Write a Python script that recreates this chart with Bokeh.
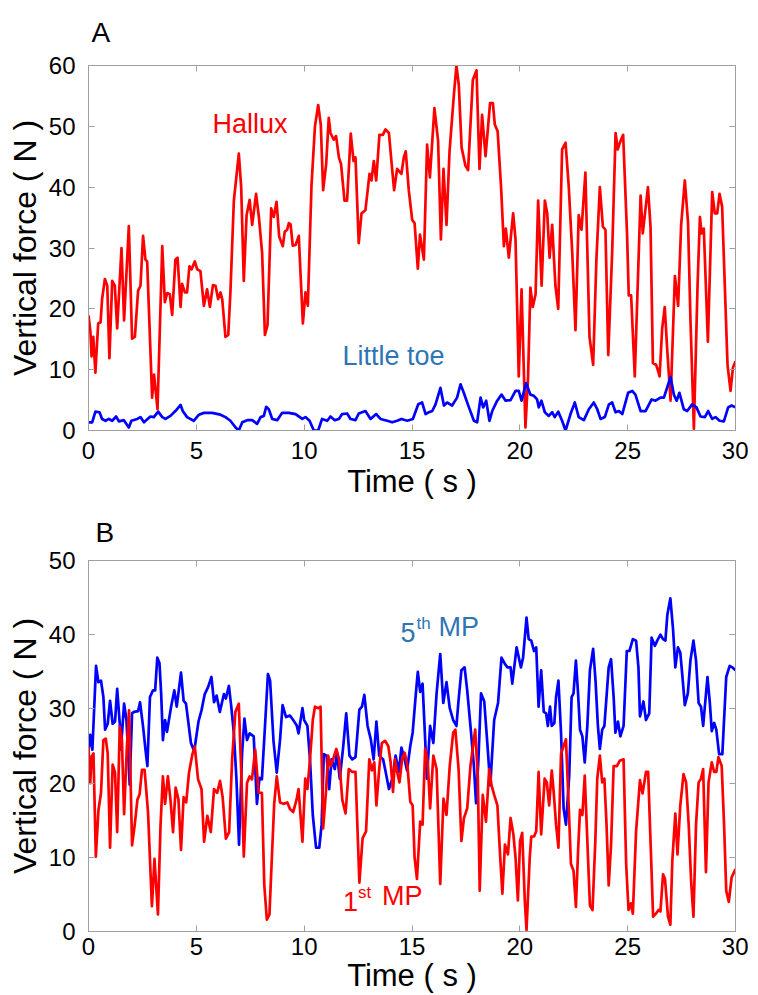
from bokeh.plotting import figure
from bokeh.models import Range1d, LinearAxis, SingleIntervalTicker, Label
from bokeh.layouts import column
from bokeh.embed import file_html
from bokeh.resources import INLINE

# ---------------- Panel A data ----------------
hallux_t = [0.0, 0.09, 0.14, 0.22, 0.32, 0.40, 0.45, 0.56, 0.63, 0.76, 0.87, 0.97, 1.10, 1.22, 1.33, 1.53, 1.65, 1.87, 2.02, 2.15,
            2.30, 2.41, 2.53, 2.64, 2.72, 2.95, 3.04, 3.20, 3.42, 3.54, 3.65, 3.77, 3.88, 4.03, 4.13, 4.27, 4.34, 4.47, 4.57, 4.68,
            4.78, 4.93, 5.04, 5.19, 5.35, 5.50, 5.63, 5.77, 5.89, 6.01, 6.12, 6.20, 6.35, 6.48, 6.58, 6.74, 6.97, 7.08, 7.20, 7.33,
            7.47, 7.59, 7.77, 7.90, 8.05, 8.18, 8.30, 8.47, 8.59, 8.72, 8.84, 9.01, 9.10, 9.21, 9.29, 9.37, 9.47, 9.60, 9.75, 9.94,
            10.06, 10.17, 10.34, 10.50, 10.65, 10.77, 10.88, 11.02, 11.14, 11.22, 11.37, 11.48, 11.61, 11.71, 11.87, 11.99, 12.16, 12.29, 12.38, 12.53,
            12.66, 12.84, 13.03, 13.12, 13.23, 13.34, 13.49, 13.65, 13.77, 13.93, 14.05, 14.17, 14.31, 14.51, 14.62, 14.71, 14.85, 15.01, 15.12, 15.27,
            15.37, 15.55, 15.70, 15.83, 16.04, 16.21, 16.34, 16.46, 16.60, 16.74, 16.94, 17.06, 17.17, 17.30, 17.48, 17.60, 17.82, 17.99, 18.13, 18.25,
            18.41, 18.62, 18.75, 18.84, 18.97, 19.13, 19.26, 19.35, 19.49, 19.69, 19.80, 19.95, 20.08, 20.26, 20.38, 20.49, 20.60, 20.73, 20.85, 21.01,
            21.16, 21.27, 21.38, 21.50, 21.65, 21.78, 21.96, 22.12, 22.27, 22.43, 22.58, 22.73, 22.86, 23.04, 23.23, 23.40, 23.55, 23.71, 23.85, 23.97,
            24.10, 24.28, 24.44, 24.54, 24.67, 24.79, 24.97, 25.05, 25.16, 25.33, 25.60, 25.70, 25.94, 26.06, 26.17, 26.32, 26.42, 26.48, 26.60, 26.72,
            26.83, 26.99, 27.19, 27.34, 27.48, 27.65, 27.80, 27.91, 28.07, 28.24, 28.35, 28.43, 28.53, 28.72, 28.92, 29.04, 29.15, 29.26, 29.38, 29.53,
            29.63, 29.77, 29.88, 30.0]
hallux_f = [18.9, 16.2, 12.2, 15.4, 9.5, 14.6, 17.6, 17.8, 21.6, 24.9, 23.8, 11.9, 24.6, 23.8, 16.8, 30.0, 18.1, 33.6, 15.1, 15.4,
            23.0, 23.8, 32.0, 28.1, 27.8, 5.4, 9.2, 3.5, 30.3, 21.1, 22.6, 22.4, 19.0, 28.1, 28.4, 20.3, 24.1, 22.7, 22.7, 27.0,
            26.5, 27.8, 26.5, 26.2, 20.5, 23.2, 20.3, 23.9, 23.8, 21.6, 22.7, 21.6, 15.4, 15.7, 22.7, 37.8, 45.5, 40.0, 24.6, 35.4,
            37.9, 33.8, 38.9, 35.1, 29.2, 15.7, 17.3, 36.5, 35.1, 37.6, 31.9, 30.3, 32.7, 33.0, 34.1, 33.9, 30.4, 30.5, 32.0, 17.6,
            22.7, 20.5, 40.3, 50.0, 53.5, 50.3, 39.5, 43.8, 51.4, 48.9, 47.8, 48.4, 44.9, 43.8, 37.8, 37.8, 48.8, 44.3, 44.9, 30.8,
            35.7, 36.2, 42.2, 41.1, 44.3, 41.1, 48.6, 48.6, 49.5, 48.9, 44.1, 39.5, 43.0, 42.2, 44.9, 45.9, 39.5, 34.6, 34.1, 26.6,
            32.2, 28.1, 47.0, 41.6, 53.0, 47.6, 31.4, 43.0, 33.8, 45.9, 55.1, 60.0, 56.8, 46.5, 43.5, 42.8, 57.6, 59.2, 43.0, 51.9,
            45.1, 53.8, 53.8, 50.3, 49.2, 40.0, 30.3, 33.2, 28.4, 35.7, 31.4, 8.9, 23.2, 0.5, 8.6, 23.5, 20.3, 22.4, 37.8, 23.8,
            37.8, 35.7, 28.4, 33.8, 23.8, 20.0, 46.2, 47.3, 40.0, 29.2, 16.5, 35.4, 33.0, 42.4, 15.4, 10.8, 28.1, 40.0, 33.5, 33.0,
            12.4, 29.2, 48.9, 46.2, 47.6, 48.6, 32.4, 22.2, 22.2, 8.9, 38.6, 32.4, 40.0, 33.5, 11.1, 10.8, 9.7, 8.9, 16.8, 20.3,
            13.5, 4.9, 25.4, 20.5, 33.8, 41.1, 34.1, 18.4, 0.3, 23.8, 35.1, 32.4, 33.2, 14.6, 39.2, 35.7, 35.7, 38.9, 36.8, 21.1,
            10.8, 6.5, 10.3, 11.4]

toe_t = [0.0, 0.17, 0.32, 0.51, 0.63, 0.79, 0.94, 1.10, 1.28, 1.41, 1.64, 1.87, 1.99, 2.26, 2.41, 2.57, 2.87, 3.03, 3.23, 3.42,
         3.57, 3.80, 4.03, 4.27, 4.37, 4.57, 4.88, 5.12, 5.35, 5.73, 6.12, 6.35, 6.58, 6.82, 6.97, 7.13, 7.36, 7.59, 7.82, 7.98,
         8.13, 8.24, 8.36, 8.52, 8.75, 8.98, 9.29, 9.60, 9.91, 10.06, 10.25, 10.45, 10.65, 10.83, 11.07, 11.22, 11.42, 11.61, 11.76, 11.99,
         12.15, 12.38, 12.53, 12.84, 13.08, 13.34, 13.54, 13.85, 14.08, 14.31, 14.51, 14.78, 15.04, 15.29, 15.47, 15.63, 15.78, 15.94, 16.09, 16.32,
         16.48, 16.63, 16.86, 17.09, 17.25, 17.40, 17.64, 17.87, 18.02, 18.18, 18.30, 18.44, 18.59, 18.72, 18.95, 19.15, 19.34, 19.57, 19.80, 19.95,
         20.08, 20.29, 20.49, 20.65, 20.80, 20.88, 21.00, 21.16, 21.34, 21.50, 21.62, 21.78, 21.96, 22.12, 22.35, 22.55, 22.73, 22.97, 23.20, 23.43,
         23.59, 23.74, 23.94, 24.13, 24.28, 24.44, 24.59, 24.75, 25.02, 25.21, 25.36, 25.60, 25.83, 26.11, 26.29, 26.52, 26.68, 26.88, 26.99, 27.14,
         27.27, 27.40, 27.60, 27.76, 27.99, 28.19, 28.38, 28.58, 28.73, 28.92, 29.07, 29.26, 29.46, 29.66, 29.82, 30.0]
toe_f = [1.35, 1.35, 3.1, 3.0, 1.9, 1.6, 1.9, 1.6, 2.3, 1.5, 1.7, 0.5, 1.6, 1.9, 2.2, 1.35, 2.3, 2.2, 3.1, 2.2,
         1.9, 2.4, 3.2, 4.2, 3.2, 2.2, 1.6, 2.6, 2.9, 2.9, 2.6, 2.2, 1.6, 0.5, 0.0, 1.35, 1.7, 1.7, 1.1, 2.2,
         2.4, 3.9, 3.5, 1.9, 1.7, 2.9, 2.9, 2.7, 1.9, 2.2, 1.6, 0.0, 0.0, 1.9, 1.6, 2.3, 1.7, 1.9, 2.7, 2.8,
         1.9, 1.7, 2.8, 3.2, 1.9, 2.7, 1.9, 1.6, 1.35, 1.6, 1.9, 1.6, 1.9, 4.3, 4.6, 2.7, 3.0, 3.2, 4.3, 7.0,
         4.1, 4.6, 4.1, 5.4, 7.6, 6.2, 3.8, 1.6, 1.35, 5.4, 3.8, 4.9, 1.6, 3.2, 4.9, 5.9, 4.9, 5.0, 6.5, 6.5,
         4.9, 7.8, 5.9, 5.7, 5.1, 3.8, 4.9, 3.0, 2.4, 3.0, 2.2, 3.1, 1.6, 0.0, 2.7, 4.6, 2.2, 1.7, 3.5, 4.6,
         3.5, 1.9, 2.2, 4.3, 4.6, 3.0, 3.2, 2.7, 6.2, 6.5, 5.9, 3.2, 3.2, 5.1, 4.9, 5.4, 5.4, 7.6, 8.8, 5.9,
         4.9, 6.2, 3.5, 3.2, 4.3, 3.8, 2.3, 2.2, 3.2, 1.9, 2.2, 1.6, 1.5, 3.8, 4.1, 3.8]

# ---------------- Panel B data ----------------
mp5_t = [0.0, 0.08, 0.18, 0.35, 0.46, 0.58, 0.69, 0.77, 0.89, 1.00, 1.12, 1.23, 1.33, 1.45, 1.50, 1.65, 1.76, 1.91, 2.02, 2.11,
         2.30, 2.39, 2.53, 2.65, 2.73, 2.85, 2.99, 3.09, 3.19, 3.29, 3.37, 3.45, 3.55, 3.64, 3.83, 3.98, 4.09, 4.29, 4.41, 4.52,
         4.75, 4.90, 5.10, 5.24, 5.39, 5.54, 5.70, 5.82, 5.94, 6.09, 6.28, 6.37, 6.51, 6.62, 6.74, 6.86, 6.98, 7.12, 7.23, 7.35,
         7.47, 7.66, 7.81, 7.93, 8.04, 8.19, 8.32, 8.42, 8.58, 8.73, 8.88, 9.00, 9.16, 9.34, 9.49, 9.65, 9.74, 9.92, 10.00, 10.15,
         10.27, 10.40, 10.55, 10.70, 10.81, 10.91, 11.04, 11.16, 11.27, 11.42, 11.52, 11.65, 11.80, 11.95, 12.10, 12.23, 12.38, 12.56, 12.68, 12.79,
         12.94, 13.09, 13.22, 13.35, 13.48, 13.66, 13.78, 13.93, 14.09, 14.24, 14.39, 14.51, 14.66, 14.77, 14.92, 15.03, 15.18, 15.27, 15.38, 15.49,
         15.61, 15.69, 15.84, 15.99, 16.14, 16.31, 16.45, 16.60, 16.75, 16.91, 17.06, 17.16, 17.29, 17.44, 17.56, 17.71, 17.87, 17.97, 18.08, 18.20,
         18.35, 18.48, 18.63, 18.81, 18.99, 19.15, 19.30, 19.42, 19.57, 19.65, 19.85, 20.05, 20.15, 20.31, 20.41, 20.53, 20.66, 20.76, 20.87, 20.99,
         21.11, 21.22, 21.30, 21.40, 21.48, 21.60, 21.68, 21.79, 21.91, 22.03, 22.14, 22.29, 22.40, 22.49, 22.60, 22.70, 22.79, 22.90, 23.01, 23.13,
         23.25, 23.40, 23.51, 23.62, 23.71, 23.82, 23.92, 24.12, 24.23, 24.35, 24.43, 24.55, 24.66, 24.81, 24.96, 25.08, 25.24, 25.39, 25.50, 25.57,
         25.73, 25.85, 26.00, 26.11, 26.26, 26.37, 26.52, 26.64, 26.75, 26.84, 26.98, 27.10, 27.21, 27.33, 27.44, 27.53, 27.65, 27.79, 27.91, 28.05,
         28.17, 28.29, 28.40, 28.50, 28.70, 28.81, 28.90, 29.01, 29.11, 29.24, 29.39, 29.57, 29.73, 29.85, 30.0]
mp5_f = [24.3, 26.5, 24.5, 35.8, 33.6, 33.8, 31.6, 27.2, 28.0, 31.1, 28.0, 28.3, 32.7, 28.0, 24.5, 30.7, 28.5, 19.8, 29.4, 29.6,
         29.7, 30.9, 27.6, 24.3, 22.3, 31.6, 32.5, 32.5, 36.9, 36.2, 32.0, 25.8, 28.5, 26.9, 30.3, 32.5, 30.3, 34.9, 31.1, 30.7,
         25.4, 24.3, 28.3, 29.8, 32.0, 32.9, 34.3, 30.9, 31.8, 29.6, 32.0, 31.4, 33.1, 30.3, 26.7, 20.5, 11.7, 24.0, 28.7, 25.8,
         26.7, 26.3, 17.2, 20.7, 20.5, 28.0, 34.7, 33.8, 25.6, 21.4, 25.8, 30.5, 28.9, 29.1, 28.5, 27.8, 26.7, 30.1, 28.5, 27.7,
         23.2, 15.7, 11.3, 11.3, 14.4, 23.9, 23.7, 19.2, 23.2, 21.9, 24.1, 20.6, 24.6, 29.4, 23.7, 23.2, 23.5, 29.9, 30.3, 31.9,
         27.7, 25.9, 23.2, 28.3, 23.7, 23.2, 21.5, 19.2, 20.6, 23.7, 21.5, 24.8, 23.2, 21.7, 25.0, 26.8, 32.1, 35.0, 32.3, 33.4,
         25.9, 20.6, 27.7, 25.4, 32.1, 37.4, 30.8, 33.6, 30.1, 28.5, 27.7, 31.2, 35.2, 35.6, 32.5, 27.7, 22.3, 17.3, 23.2, 32.1,
         31.0, 25.9, 19.7, 28.5, 30.8, 36.9, 36.1, 35.6, 35.6, 33.4, 38.3, 35.6, 36.9, 42.3, 39.4, 39.2, 37.8, 38.3, 30.3, 35.2,
         29.6, 29.4, 27.7, 30.3, 27.7, 28.1, 31.6, 33.8, 26.8, 16.6, 14.4, 21.0, 31.6, 32.1, 36.5, 32.1, 27.2, 26.3, 22.8, 27.7,
         35.2, 38.1, 33.8, 27.7, 24.6, 27.2, 27.7, 35.6, 36.7, 31.6, 26.8, 28.3, 26.3, 27.7, 37.8, 37.8, 39.4, 39.2, 35.6, 29.0,
         31.0, 28.5, 29.4, 39.6, 38.5, 39.2, 40.0, 39.4, 39.2, 42.7, 44.9, 40.9, 35.6, 38.3, 37.6, 34.7, 30.5, 32.1, 36.5, 39.2,
         36.5, 30.8, 30.3, 27.7, 34.3, 30.8, 27.0, 28.1, 27.2, 23.9, 23.9, 34.3, 35.8, 35.6, 35.2]

mp1_t = [0.0, 0.08, 0.15, 0.23, 0.34, 0.46, 0.58, 0.69, 0.80, 0.89, 1.00, 1.12, 1.23, 1.33, 1.45, 1.55, 1.65, 1.78, 1.88, 2.02,
         2.14, 2.27, 2.37, 2.48, 2.60, 2.76, 2.94, 3.06, 3.22, 3.34, 3.45, 3.55, 3.68, 3.80, 3.92, 4.04, 4.17, 4.29, 4.41, 4.53,
         4.66, 4.81, 4.93, 5.08, 5.24, 5.36, 5.51, 5.67, 5.82, 5.97, 6.10, 6.22, 6.37, 6.52, 6.66, 6.81, 6.97, 7.09, 7.20, 7.35,
         7.47, 7.58, 7.73, 7.89, 8.04, 8.15, 8.27, 8.39, 8.50, 8.61, 8.73, 8.88, 9.04, 9.22, 9.34, 9.49, 9.65, 9.74, 9.92, 10.05,
         10.15, 10.27, 10.40, 10.50, 10.66, 10.76, 10.88, 11.01, 11.11, 11.22, 11.34, 11.49, 11.62, 11.77, 11.92, 12.07, 12.23, 12.38, 12.56, 12.71,
         12.87, 13.02, 13.14, 13.25, 13.35, 13.48, 13.60, 13.75, 13.90, 14.01, 14.12, 14.21, 14.31, 14.42, 14.54, 14.66, 14.79, 14.92, 15.03, 15.12,
         15.23, 15.38, 15.49, 15.61, 15.73, 15.84, 15.99, 16.14, 16.31, 16.46, 16.60, 16.75, 16.91, 17.01, 17.16, 17.29, 17.41, 17.56, 17.71, 17.93,
         18.05, 18.14, 18.28, 18.43, 18.58, 18.69, 18.81, 18.96, 19.09, 19.19, 19.31, 19.45, 19.57, 19.70, 19.80, 19.91, 20.01, 20.11, 20.23, 20.31,
         20.46, 20.53, 20.66, 20.76, 20.87, 20.99, 21.15, 21.25, 21.36, 21.48, 21.57, 21.68, 21.79, 21.91, 22.03, 22.14, 22.24, 22.37, 22.49, 22.60,
         22.70, 22.79, 22.90, 23.01, 23.16, 23.25, 23.37, 23.50, 23.59, 23.71, 23.82, 23.92, 24.02, 24.12, 24.23, 24.35, 24.50, 24.63, 24.81, 24.93,
         25.04, 25.15, 25.24, 25.39, 25.57, 25.69, 25.85, 25.95, 26.06, 26.18, 26.31, 26.43, 26.52, 26.64, 26.73, 26.87, 26.98, 27.07, 27.21, 27.31,
         27.44, 27.59, 27.71, 27.83, 27.94, 28.05, 28.17, 28.29, 28.40, 28.50, 28.63, 28.75, 28.90, 29.01, 29.11, 29.21, 29.36, 29.47, 29.57, 29.69,
         29.82, 30.0]
mp1_f = [24.9, 20.0, 23.6, 24.0, 10.1, 16.3, 18.7, 25.8, 26.0, 24.0, 11.3, 22.5, 21.4, 13.4, 27.6, 25.8, 15.8, 24.9, 29.8, 11.6,
         14.3, 17.8, 18.5, 21.8, 21.8, 16.1, 3.4, 9.8, 2.3, 14.3, 20.9, 17.2, 20.9, 17.8, 13.4, 19.4, 17.8, 11.0, 18.1, 17.4,
         21.4, 23.8, 24.9, 20.5, 19.2, 12.1, 15.6, 13.4, 19.2, 18.7, 20.3, 18.1, 12.5, 13.4, 23.2, 29.6, 30.7, 20.9, 10.1, 20.0,
         20.9, 20.5, 24.5, 18.7, 18.7, 6.3, 1.6, 2.3, 9.8, 17.2, 20.9, 17.4, 17.2, 17.4, 16.5, 16.1, 17.8, 19.2, 12.1, 20.6,
         19.2, 23.2, 28.5, 30.3, 30.1, 30.3, 13.9, 18.8, 23.7, 22.3, 23.2, 24.6, 23.2, 17.7, 15.9, 21.9, 21.5, 21.5, 6.6, 12.6,
         13.5, 23.2, 21.7, 22.8, 17.0, 21.9, 25.4, 25.7, 25.0, 22.8, 18.8, 23.2, 21.5, 20.1, 23.2, 24.1, 22.3, 17.5, 17.0, 10.0,
         7.1, 14.8, 14.4, 24.6, 22.8, 16.6, 23.7, 21.9, 6.4, 17.9, 15.7, 22.3, 26.8, 27.2, 21.9, 12.2, 15.3, 16.6, 22.3, 27.2,
         21.0, 5.5, 18.4, 14.8, 21.9, 19.7, 18.4, 17.0, 10.0, 5.1, 11.7, 10.4, 15.3, 13.1, 10.0, 4.2, 12.2, 13.3, 4.2, 0.2,
         10.0, 12.8, 12.8, 13.5, 21.5, 13.1, 20.6, 20.1, 17.0, 21.7, 18.8, 14.4, 11.3, 23.9, 25.0, 25.9, 18.8, 9.1, 8.2, 3.3,
         10.8, 16.4, 15.7, 21.0, 10.0, 3.5, 2.9, 12.2, 20.6, 23.7, 20.1, 20.6, 14.4, 6.2, 11.7, 22.3, 22.3, 23.0, 23.2, 9.1,
         2.9, 3.8, 2.4, 13.5, 20.4, 18.6, 21.5, 21.5, 12.2, 2.0, 2.4, 2.9, 2.7, 7.7, 7.1, 2.0, 0.9, 9.5, 15.9, 10.4,
         17.0, 21.2, 20.1, 14.4, 6.9, 2.0, 14.4, 20.1, 20.6, 21.9, 8.0, 20.1, 22.8, 21.5, 21.5, 23.5, 22.3, 14.4, 5.5, 4.0,
         7.3, 8.4]

x_ticks_interval = 5
xlabel = "Time ( s )"
ylabel = "Vertical force ( N )"

FONT = "Liberation Sans"
GRAY = "#a0a0a0"
RED = "#ff0000"
BLUE = "#0000ff"
LBLUE = "#2e75b6"


def style_axis(ax):
    ax.axis_line_color = GRAY
    ax.axis_line_width = 1
    ax.major_tick_line_color = GRAY
    ax.major_tick_in = 6
    ax.major_tick_out = 0
    ax.minor_tick_line_color = None
    ax.major_label_text_font = FONT
    ax.major_label_text_font_size = "24px"
    ax.major_label_text_color = "black"
    ax.axis_label_text_font = FONT
    ax.axis_label_text_font_size = "31px"
    ax.axis_label_text_font_style = "normal"
    ax.axis_label_text_color = "black"


def make_panel(letter, ymax, w, h, left, right, top, bottom, title_offset, title_standoff, xl_standoff, xt_standoff):
    p = figure(width=w, height=h, x_range=Range1d(0, 30), y_range=Range1d(0, ymax),
               output_backend="svg", toolbar_location=None,
               min_border_left=left, min_border_right=right, min_border_top=top, min_border_bottom=bottom)
    p.grid.visible = False
    p.outline_line_color = GRAY
    p.background_fill_color = "white"
    p.border_fill_color = "white"
    p.xaxis.ticker = SingleIntervalTicker(interval=x_ticks_interval)
    p.yaxis.ticker = SingleIntervalTicker(interval=10)
    p.xaxis.axis_label = xlabel
    p.yaxis.axis_label = ylabel
    for ax in p.xaxis + p.yaxis:
        style_axis(ax)
    p.yaxis.axis_label_text_font_size = "32px"
    p.xaxis.major_label_standoff = xl_standoff
    p.xaxis.axis_label_standoff = xt_standoff
    p.yaxis.major_label_standoff = 9
    p.yaxis.axis_label_standoff = 3
    top_ax = LinearAxis(ticker=SingleIntervalTicker(interval=x_ticks_interval))
    right_ax = LinearAxis(ticker=SingleIntervalTicker(interval=10))
    for ax in (top_ax, right_ax):
        style_axis(ax)
        ax.major_label_text_font_size = "0px"
        ax.major_label_text_color = None
        ax.major_label_standoff = 0
    p.add_layout(top_ax, "above")
    p.add_layout(right_ax, "right")
    p.title.text = letter
    p.title.text_font = FONT
    p.title.text_font_size = "28px"
    p.title.text_font_style = "normal"
    p.title.text_color = "black"
    p.title.align = "left"
    p.title.offset = title_offset
    p.title.standoff = title_standoff
    return p


# panel A: frame x 88..735, y 61..430 ; panel B: frame x 85..738, y 555..931
pA = make_panel("A", 60, 748, 505, 88, 13, 61, 75, 3, 28, 7, 2)
pA.line(hallux_t, hallux_f, color=RED, line_width=2.7, line_join="round")
pA.line(toe_t, toe_f, color=BLUE, line_width=2.7, line_join="round")
pA.add_layout(Label(x=5.75, y=48.0, text="Hallux", text_color=RED, text_font=FONT, text_font_size="27px"))
pA.add_layout(Label(x=11.78, y=9.76, text="Little toe", text_color=LBLUE, text_font=FONT, text_font_size="27px"))

pB = make_panel("B", 50, 748, 490, 85, 10, 50, 64, 7, 18, 2, 0)
pB.line(mp5_t, mp5_f, color=BLUE, line_width=2.7, line_join="round")
pB.line(mp1_t, mp1_f, color=RED, line_width=2.7, line_join="round")
pB.add_layout(Label(x=14.47, y=38.96, text="5", text_color=LBLUE, text_font=FONT, text_font_size="27px"))
pB.add_layout(Label(x=14.47, y=38.96, x_offset=16, y_offset=9, text="th", text_color=LBLUE, text_font=FONT, text_font_size="17px"))
pB.add_layout(Label(x=14.47, y=38.96, x_offset=38, text="MP", text_color=LBLUE, text_font=FONT, text_font_size="27px"))
pB.add_layout(Label(x=11.8, y=2.8, text="1", text_color=RED, text_font=FONT, text_font_size="27px"))
pB.add_layout(Label(x=11.8, y=2.8, x_offset=15, y_offset=9, text="st", text_color=RED, text_font=FONT, text_font_size="17px"))
pB.add_layout(Label(x=11.8, y=2.8, x_offset=39, text="MP", text_color=RED, text_font=FONT, text_font_size="27px"))

layout = column(pA, pB, spacing=0)
open("out.html", "w").write(file_html(layout, INLINE))
